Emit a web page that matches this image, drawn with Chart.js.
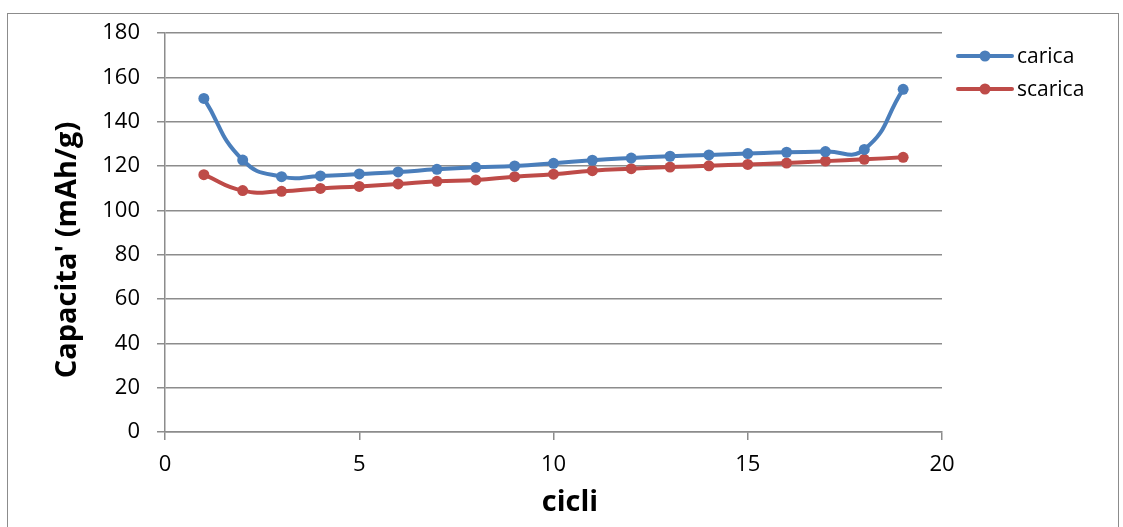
<!DOCTYPE html>
<html>
<head>
<meta charset="utf-8">
<script src="https://cdn.jsdelivr.net/npm/chart.js@4.4.1/dist/chart.umd.min.js"></script>
<style>
html, body { margin: 0; padding: 0; background: #fff; overflow: hidden; }
#frame { position: absolute; left: 7px; top: 13px; width: 1110px; height: 600px; border: 1.5px solid #8c8c8c; }
#wrap { position: absolute; left: 0; top: 0; width: 1123px; height: 527px; }
</style>
</head>
<body>
<div id="frame"></div>
<div id="wrap"><canvas id="chart"></canvas></div>
<script>
// values
const cycles = [1, 2, 3, 4, 5, 6, 7, 8, 9, 10, 11, 12, 13, 14, 15, 16, 17, 18, 19];
const carica = [150.5, 122.7, 115.2, 115.5, 116.4, 117.3, 118.5, 119.4, 120.0, 121.2, 122.6, 123.6, 124.4, 125.0, 125.6, 126.2, 126.5, 127.5, 154.6];
const scarica = [116.1, 108.9, 108.6, 109.9, 110.8, 111.9, 113.1, 113.7, 115.2, 116.3, 117.9, 118.8, 119.5, 120.1, 120.7, 121.3, 122.2, 123.0, 123.9];
const xTicks = [0, 5, 10, 15, 20];
const yTicks = [0, 20, 40, 60, 80, 100, 120, 140, 160, 180];
const seriesNames = ['carica', 'scarica'];
const xTitle = 'cicli';
const yTitle = "Capacita' (mAh/g)";

const BLUE = '#4a7ebb';
const RED = '#be4b48';
const GRID = '#8c8c8c';
const FONT = '"Open Sans", "Liberation Sans", sans-serif';

function pts(ys) { return cycles.map((c, i) => ({ x: c, y: ys[i] })); }

function series(label, ys, color) {
    return {
        label, data: pts(ys), showLine: true,
        borderColor: color, backgroundColor: color,
        borderWidth: 4, pointRadius: 5.5, pointHoverRadius: 5.5,
        pointBorderWidth: 0, tension: 0.5
    };
}

// legend on the right: line with a dot, then the name
const sideLegend = {
    id: 'sideLegend',
    afterDraw(chart) {
        const ctx = chart.ctx;
        const x0 = chart.chartArea.right + 16;
        chart.data.datasets.forEach((ds, i) => {
            const y = 56 + i * 33;
            ctx.save();
            ctx.strokeStyle = ds.borderColor; ctx.lineWidth = 4; ctx.lineCap = 'round';
            ctx.beginPath(); ctx.moveTo(x0, y); ctx.lineTo(x0 + 54, y); ctx.stroke();
            ctx.fillStyle = ds.borderColor;
            ctx.beginPath(); ctx.arc(x0 + 27, y, 5.5, 0, Math.PI * 2); ctx.fill();
            ctx.fillStyle = '#000'; ctx.font = '21px ' + FONT; ctx.textBaseline = 'middle';
            ctx.fillText(ds.label, x0 + 59, y + 1);
            ctx.restore();
        });
    }
};

// axis titles placed like the original (centred on the frame, not the plot)
const titles = {
    id: 'titles',
    afterDraw(chart) {
        const ctx = chart.ctx;
        ctx.save();
        ctx.font = 'bold 29px ' + FONT;
        ctx.fillStyle = '#000'; ctx.textAlign = 'center'; ctx.textBaseline = 'middle';
        ctx.fillText(xTitle, 570, 503);
        ctx.translate(68, 250);
        ctx.rotate(-Math.PI / 2);
        ctx.fillText(yTitle, 0, 0);
        ctx.restore();
    }
};

new Chart(document.getElementById('chart'), {
    type: 'scatter',
    data: {
        datasets: [
            series(seriesNames[0], carica, BLUE),
            series(seriesNames[1], scarica, RED)
        ]
    },
    options: {
        responsive: true, maintainAspectRatio: false, animation: false,
        layout: { padding: { left: 0, top: 33, right: 181, bottom: 0 } },
        plugins: { legend: { display: false }, tooltip: { enabled: false } },
        scales: {
            x: {
                type: 'linear', min: 0, max: 20,
                afterBuildTicks: s => { s.ticks = xTicks.map(v => ({ value: v })); },
                afterFit: s => { s.height = 95; },
                grid: { drawOnChartArea: false, color: GRID, lineWidth: 1.5, tickLength: 8 },
                border: { color: GRID, width: 1.5 },
                ticks: { color: '#000', font: { family: FONT, size: 22 }, padding: 12 }
            },
            y: {
                min: 0, max: 180,
                afterBuildTicks: s => { s.ticks = yTicks.map(v => ({ value: v })); },
                afterFit: s => { s.width = 165; },
                grid: { color: GRID, lineWidth: 1.5, tickLength: 8 },
                border: { color: GRID, width: 1.5 },
                ticks: { color: '#000', font: { family: FONT, size: 22 }, padding: 17 }
            }
        }
    },
    plugins: [sideLegend, titles]
});
</script>
</body>
</html>
